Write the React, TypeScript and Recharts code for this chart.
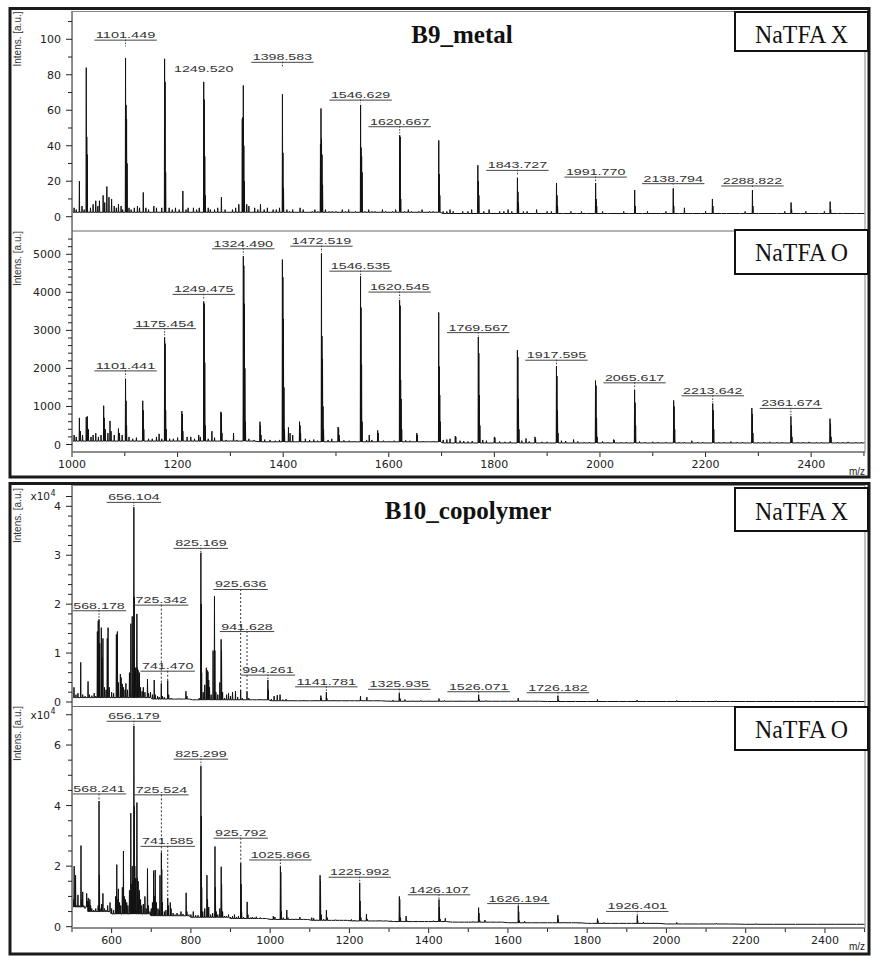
import React from 'react';
import { ComposedChart, Line, XAxis, YAxis, ReferenceDot, ReferenceLine } from 'recharts';

const SANS = '"DejaVu Sans", "Liberation Sans", Arial, sans-serif';
const ARIAL = '"Liberation Sans", Arial, Helvetica, sans-serif';
const SERIF = '"Liberation Serif", "Times New Roman", serif';

type Pt = [number, number];
type Lab = [number, string, number, number, string];

// ---------------- B9_metal, NaTFA X ----------------
const b9XPeaks: Pt[] = [
  [1014, 20], [1027, 84], [1028, 45], [1029, 35], [1045, 9], [1059, 12], [1066, 17], [1070, 11], [1075, 10], [1088, 7],
  [1101.4, 89.5], [1102.4, 63], [1103.4, 55], [1104.4, 30], [1135, 13.7],
  [1175.4, 89], [1176.4, 76], [1177.4, 25], [1210, 14.5],
  [1249.5, 76], [1250.5, 66], [1251.5, 34], [1252.5, 12], [1283, 11],
  [1322.5, 55], [1323.5, 56], [1324.5, 74], [1325.5, 40], [1326.5, 20], [1357, 7],
  [1398.6, 69], [1399.6, 36], [1400.6, 16],
  [1470.6, 41], [1471.6, 61], [1472.6, 44], [1473.6, 35], [1474.6, 18],
  [1546.6, 63], [1547.6, 39], [1548.6, 34], [1549.6, 25],
  [1620.7, 46], [1621.7, 45], [1622.7, 10],
  [1694.7, 43], [1695.7, 24], [1696.7, 12],
  [1768.7, 29], [1769.7, 20], [1770.7, 12],
  [1843.7, 22], [1844.7, 14], [1845.7, 8],
  [1917.7, 19], [1918.7, 12], [1919.7, 6],
  [1991.8, 19], [1992.8, 10], [1993.8, 6],
  [2065.8, 15], [2066.8, 6], [2138.8, 16], [2139.8, 6], [2160, 5],
  [2213, 10], [2214, 6], [2288.8, 15], [2289.8, 6],
  [2362, 8], [2363, 4], [2436, 8.5], [2437, 4],
];
const b9XNoise: Pt[] = [
  [1000.5, 4], [1004, 5], [1008, 4], [1019, 6], [1023, 4], [1035, 5], [1040, 7], [1049, 6], [1052, 9], [1062, 8],
  [1080, 6], [1084, 5], [1093, 6], [1096, 4], [1108, 5], [1112, 4], [1118, 5], [1124, 6], [1128, 5], [1140, 5],
  [1145, 4], [1155, 6], [1160, 5], [1170, 5], [1184, 5], [1190, 4], [1196, 5], [1203, 4], [1216, 4], [1220, 5],
  [1230, 5], [1236, 4], [1241, 5], [1258, 5], [1262, 4], [1270, 4], [1276, 5], [1290, 4], [1304, 4], [1310, 5],
  [1316, 7], [1331, 7], [1335, 6], [1346, 5], [1352, 4], [1364, 4], [1370, 5], [1381, 4], [1387, 4], [1393, 5],
  [1407, 4], [1412, 3], [1418, 4], [1432, 5], [1438, 4], [1455, 3], [1460, 4], [1466, 3], [1480, 4], [1487, 3],
  [1493, 3], [1500, 3], [1512, 4], [1518, 3], [1524, 4], [1537, 3], [1555, 3], [1562, 4], [1568, 3], [1574, 3],
  [1588, 4], [1594, 3], [1607, 3], [1613, 4], [1630, 3], [1637, 4], [1643, 3], [1657, 3], [1663, 4], [1677, 3],
  [1684, 3], [1703, 3], [1710, 3], [1716, 4], [1722, 3], [1740, 3], [1750, 3], [1757, 4], [1780, 3], [1790, 4],
  [1810, 3], [1818, 3], [1826, 4], [1833, 3], [1855, 3], [1862, 3], [1880, 4], [1900, 3], [1908, 3], [1930, 2],
  [1945, 3], [1955, 2], [1965, 3], [1975, 2], [2005, 3], [2015, 2], [2045, 3], [2055, 2], [2080, 2], [2090, 3],
  [2115, 2], [2125, 3], [2150, 2], [2175, 2], [2190, 2], [2200, 3], [2230, 2], [2240, 2], [2265, 2], [2275, 3],
  [2300, 2], [2335, 2], [2350, 3], [2380, 2], [2390, 3], [2415, 2], [2425, 3], [2450, 2], [2460, 2], [2485, 2], [2501, 2],
];
const b9XBase: Pt[] = [[1000, 2.5], [1700, 1.8]];
const b9XLabels: Lab[] = [
  [1101.449, '1101.449', 99.8, 96, 'u'],
  [1249.52, '1249.520', 80.8, 80.8, 'n'],
  [1398.583, '1398.583', 87.3, 84.5, 'u'],
  [1546.629, '1546.629', 66, 64, 'u'],
  [1620.667, '1620.667', 51, 47, 'u'],
  [1843.727, '1843.727', 26.4, 23, 'u'],
  [1991.77, '1991.770', 22.6, 20, 'u'],
  [2138.794, '2138.794', 18.9, 17, 'u'],
  [2288.822, '2288.822', 17.6, 16, 'u'],
];

// ---------------- B9_metal, NaTFA O ----------------
const b9OPeaks: Pt[] = [
  [1000.5, 150], [1004, 250], [1008, 200], [1014, 700], [1016, 350], [1020, 250], [1027, 720], [1029, 740], [1031, 400], [1036, 200],
  [1040, 250], [1045, 300], [1050, 200], [1055, 250], [1060, 1020], [1061, 700], [1063, 400], [1068, 300], [1072, 620], [1074, 350],
  [1080, 250], [1088, 420], [1090, 300], [1095, 250],
  [1101.4, 1730], [1102.4, 1150], [1103.4, 500], [1108, 200], [1115, 150], [1122, 180],
  [1134, 1150], [1135, 900], [1136, 400], [1145, 150], [1152, 150], [1160, 200], [1165, 280], [1170, 150],
  [1175.45, 2820], [1176.45, 2650], [1177.45, 900], [1178.45, 400], [1185, 150], [1192, 150], [1200, 180],
  [1208, 880], [1209, 800], [1210, 350], [1218, 200], [1225, 200], [1232, 150], [1240, 250], [1243, 200],
  [1249.5, 3760], [1250.5, 3700], [1251.5, 2150], [1252.5, 500], [1258, 150], [1265, 350], [1270, 180],
  [1282, 860], [1283, 820], [1284, 300], [1292, 120], [1300, 100], [1306, 300], [1312, 120],
  [1324.5, 4950], [1325.5, 4700], [1326.5, 3700], [1327.5, 2000], [1328.5, 600], [1335, 150], [1345, 120],
  [1356, 600], [1357, 500], [1358, 250], [1365, 130], [1375, 120], [1385, 100], [1393, 120],
  [1398.5, 4860], [1399.5, 4400], [1400.5, 3300], [1401.5, 1500], [1402.5, 400], [1410, 450], [1413, 300], [1418, 250],
  [1431, 600], [1432, 500], [1433, 300], [1442, 150], [1450, 120], [1458, 130], [1465, 100],
  [1472.5, 5020], [1473.5, 2850], [1474.5, 2250], [1475.5, 1000], [1476.5, 400], [1485, 120], [1492, 150],
  [1504, 460], [1505, 420], [1506, 250], [1515, 110], [1525, 100], [1535, 90],
  [1546.5, 4420], [1547.5, 3600], [1548.5, 2100], [1549.5, 600], [1558, 120], [1563, 250], [1568, 120],
  [1579, 370], [1580, 300], [1590, 100], [1600, 90], [1610, 100],
  [1620.5, 3800], [1621.5, 3650], [1622.5, 1700], [1623.5, 1200], [1624.5, 400], [1632, 110], [1640, 100],
  [1653, 300], [1654, 250], [1665, 90], [1675, 80], [1685, 90],
  [1694.6, 3470], [1695.6, 2050], [1696.6, 1300], [1697.6, 600], [1703, 120], [1710, 130], [1716, 150],
  [1726, 220], [1727, 200], [1735, 100], [1742, 90], [1750, 80], [1758, 90],
  [1769.6, 2830], [1770.6, 2400], [1771.6, 1300], [1772.6, 500], [1778, 120], [1785, 100],
  [1800, 200], [1801, 180], [1810, 80], [1820, 70], [1830, 80],
  [1843.6, 2480], [1844.6, 2300], [1845.6, 1200], [1846.6, 400], [1852, 100], [1860, 160], [1866, 80], [1877, 200], [1878, 150], [1890, 70], [1900, 70],
  [1917.6, 2060], [1918.6, 1800], [1919.6, 900], [1920.6, 300], [1927, 100], [1935, 90], [1950, 130], [1958, 80], [1970, 60], [1980, 60],
  [1991.6, 1680], [1992.6, 1550], [1993.6, 700], [1994.6, 200], [2005, 80], [2015, 60], [2026, 130], [2027, 110], [2040, 60], [2050, 60],
  [2065.6, 1440], [2066.6, 1100], [2067.6, 500], [2075, 80], [2085, 60], [2100, 70], [2110, 60], [2125, 60],
  [2139.6, 1160], [2140.6, 1000], [2141.6, 400], [2150, 60], [2160, 60], [2174, 100], [2185, 60], [2195, 60],
  [2213.6, 1080], [2214.6, 900], [2215.6, 400], [2225, 60], [2235, 60], [2248, 80], [2260, 60], [2270, 60],
  [2287.7, 960], [2288.7, 800], [2289.7, 300], [2300, 60], [2310, 60], [2322, 70], [2335, 60], [2345, 60],
  [2361.7, 740], [2362.7, 500], [2363.7, 200], [2375, 60], [2385, 60], [2396, 70], [2410, 60], [2420, 60],
  [2435.7, 680], [2436.7, 550], [2437.7, 200], [2450, 60], [2460, 60], [2470, 70], [2485, 60], [2495, 60], [2501, 50],
];
const b9OBase: Pt[] = [[1000, 90], [1350, 70], [1700, 40]];
const b9OLabels: Lab[] = [
  [1101.441, '1101.441', 1948, 1780, 'u'],
  [1175.454, '1175.454', 3059, 2870, 'u'],
  [1249.475, '1249.475', 3959, 3800, 'u'],
  [1324.49, '1324.490', 5157, 4990, 'u'],
  [1472.519, '1472.519', 5226, 5060, 'u'],
  [1546.535, '1546.535', 4570, 4450, 'u'],
  [1620.545, '1620.545', 4020, 3840, 'u'],
  [1769.567, '1769.567', 2954, 2860, 'u'],
  [1917.595, '1917.595', 2229, 2090, 'u'],
  [2065.617, '2065.617', 1634, 1470, 'u'],
  [2213.642, '2213.642', 1293, 1110, 'u'],
  [2361.674, '2361.674', 962, 770, 'u'],
];

// ---------------- B10_copolymer, NaTFA X ----------------
const b10XPeaks: Pt[] = [
  [500.5, 1500], [505, 3000], [510, 1500], [515, 1800], [522, 8100], [527, 1500], [533, 1200], [540.5, 4200], [544, 1500], [550, 1300],
  [556, 1800], [560, 1200], [564, 14400], [566.2, 16600], [568.2, 16900], [570, 12000], [574, 15200], [576, 9000], [578, 13000], [582, 3000],
  [586, 2500], [589, 13000], [591, 15200], [594, 3000], [600, 2000], [605, 1800], [612, 13800], [614.5, 14400], [617, 4000], [622, 5700],
  [624, 5000], [627, 3700], [630, 3000], [634, 2500], [636, 3800], [640, 2500], [645, 6000], [648.5, 16000], [652, 17500], [656.1, 39800],
  [657.1, 21500], [658.1, 7000], [660, 7000], [663.7, 18000], [665, 7000], [667, 6500], [670, 6000], [673, 3000], [677, 2200], [680, 3000],
  [684, 2000], [690.5, 4700], [693, 1800], [698, 2000], [703, 1500], [707.5, 4500], [710, 1500], [716, 1200], [720, 1000], [725.3, 3800],
  [728, 1200], [733, 1000], [741.5, 4400], [744, 1500], [750, 800], [760, 600], [770, 700], [780, 600], [787.5, 2200], [790, 1200],
  [796, 600], [805, 500], [815, 500], [821, 800], [825.2, 30500], [826.2, 20000], [827.2, 6000], [831, 2000], [835, 3500], [839, 7000],
  [841, 6500], [843, 6200], [845, 4500], [847, 3000], [851, 1500], [856, 10500], [859.5, 21600], [860.5, 10500], [863, 2000], [868, 1500],
  [873, 4000], [876.3, 12800], [877.3, 10500], [880, 2000], [885, 800], [890, 1500], [895, 1800], [900, 1200], [905, 2000], [912.5, 2200],
  [918, 1000], [925.6, 2500], [930, 800], [941.6, 2200], [946, 800], [955, 500], [965, 500], [975, 600], [994.3, 4500], [995.3, 2500],
  [1003, 600], [1010, 1200], [1018, 1400], [1025, 1500], [1032, 500], [1040, 600], [1055, 400], [1070, 300], [1085, 400], [1100, 300],
  [1115, 400], [1128, 1300], [1129, 800], [1141.8, 2000], [1143, 800], [1160, 400], [1180, 300], [1200, 300], [1213, 300], [1228, 1200],
  [1230, 400], [1244, 1000], [1260, 300], [1280, 300], [1300, 250], [1310, 400], [1325.9, 1800], [1328, 700], [1340, 500], [1360, 250],
  [1380, 300], [1400, 250], [1426, 700], [1440, 300], [1460, 200], [1480, 250], [1500, 200], [1526.1, 1500], [1528, 500], [1545, 300],
  [1560, 200], [1580, 200], [1600, 150], [1626, 800], [1640, 250], [1660, 150], [1680, 150], [1700, 150], [1726.2, 1300], [1728, 400],
  [1745, 200], [1770, 150], [1800, 150], [1826, 500], [1850, 100], [1880, 120], [1900, 100], [1926, 400], [1950, 100], [2000, 100],
  [2026, 300], [2060, 80], [2100, 80], [2126, 250], [2160, 80], [2200, 80], [2226, 200], [2270, 80], [2326, 200], [2370, 80],
  [2426, 150], [2480, 80], [2500, 80],
];
const b10XBase: Pt[] = [[500, 900], [700, 600], [800, 450], [1000, 250], [1300, 150], [1700, 100]];
const b10XLabels: Lab[] = [
  [656.104, '656.104', 40900, 40000, 'u'],
  [568.178, '568.178', 18750, 17000, 'u'],
  [725.342, '725.342', 19900, 3900, 'd'],
  [825.169, '825.169', 31500, 30600, 'u'],
  [925.636, '925.636', 23100, 2600, 'd'],
  [941.628, '941.628', 14500, 2300, 'd'],
  [741.47, '741.470', 6400, 4500, 'd'],
  [994.261, '994.261', 5600, 4600, 'u'],
  [1141.781, '1141.781', 3200, 2100, 'u'],
  [1325.935, '1325.935', 2700, 1900, 'u'],
  [1526.071, '1526.071', 2200, 1600, 'u'],
  [1726.182, '1726.182', 2000, 1400, 'u'],
];

// ---------------- B10_copolymer, NaTFA O ----------------
const b10OPeaks: Pt[] = [
  [500.3, 15000], [501, 18500], [503, 9000], [505.5, 20000], [507, 8000], [509, 17000], [511, 7000], [515, 10500], [518, 7000], [522.7, 26800],
  [524, 9000], [527, 11500], [530, 7000], [533, 6000], [537, 11000], [539, 8500], [541, 9500], [543, 8000], [545, 9000], [547, 7000],
  [550, 6000], [555, 5500], [560, 6000], [566, 7000], [568.2, 41500], [569.2, 17000], [571, 6000], [575, 7500], [578, 11000], [582, 6000],
  [586, 5500], [590, 7000], [596, 8000], [600, 6000], [605, 5500], [610, 10000], [613, 20500], [615, 9000], [617, 12500], [620, 8000],
  [623, 7000], [627, 13000], [629.8, 25000], [632, 10000], [635, 9000], [638, 8000], [641, 7000], [645, 12000], [648.4, 37500], [650, 14000],
  [652, 20000], [654, 15000], [656.2, 66300], [657.2, 39700], [658.5, 20000], [660, 16000], [663.8, 41000], [665, 16000], [667, 15000], [670, 12000],
  [673, 9000], [676, 7000], [680, 7500], [684, 10000], [687, 6000], [690.5, 19200], [693, 7000], [697, 5000], [700, 6000], [703, 8000],
  [706, 18500], [708, 10000], [710, 18700], [713, 8000], [717, 6000], [720, 5500], [722, 17000], [725.5, 24500], [726.5, 19000], [728, 8000],
  [733, 5000], [737, 5500], [741.6, 9500], [743, 7000], [748, 8000], [750, 6000], [755, 4500], [760, 4000], [765, 4500], [770, 4000],
  [775, 5000], [780, 4200], [788, 11200], [790, 5000], [795, 4000], [800, 4000], [806, 5000], [812, 3800], [818, 3800], [825.3, 53000],
  [826.3, 36500], [827.3, 13000], [830, 5000], [835, 6000], [840.5, 17000], [842, 9000], [845, 6500], [850, 4000], [855, 4500], [860.8, 26500],
  [861.8, 13000], [864, 5000], [868, 4000], [873, 6000], [876.5, 19800], [877.5, 14000], [880, 5000], [885, 3500], [890, 3500], [895, 4000],
  [900, 3200], [905, 3500], [910, 4000], [915, 3200], [920, 3500], [925.8, 21000], [926.8, 14000], [928, 5000], [933, 3200], [942, 8200],
  [944, 4000], [950, 3000], [955, 3200], [960, 3000], [965, 3300], [970, 2800], [975, 3000], [980, 2800], [990, 2800], [1000, 2600],
  [1008, 3500], [1012, 3200], [1025.9, 20000], [1026.9, 18000], [1028, 5000], [1033, 3000], [1042, 5500], [1045, 3000], [1055, 2600], [1065, 2600],
  [1075, 3200], [1085, 2400], [1095, 2400], [1105, 3000], [1110, 2800], [1118, 2300], [1126, 17000], [1127, 15000], [1129, 4000], [1135, 2500],
  [1142, 5500], [1144, 3000], [1155, 2200], [1165, 2300], [1175, 2100], [1185, 2200], [1195, 2000], [1205, 2400], [1212, 2200], [1226, 14500],
  [1227, 8500], [1229, 3000], [1235, 2000], [1243, 4200], [1245, 2500], [1255, 1900], [1265, 1900], [1275, 2100], [1285, 1800], [1295, 1900],
  [1305, 2000], [1312, 1800], [1326, 10000], [1327, 9000], [1329, 3000], [1335, 1900], [1343, 3500], [1345, 2000], [1360, 1700], [1375, 1800],
  [1390, 1600], [1400, 1700], [1412, 2000], [1426.1, 9000], [1427.1, 6500], [1429, 2500], [1442, 2800], [1444, 1700], [1460, 1600], [1475, 1500],
  [1490, 1500], [1500, 1600], [1512, 1700], [1526, 6300], [1527, 4500], [1529, 2000], [1542, 2200], [1555, 1500], [1570, 1400], [1585, 1500],
  [1600, 1400], [1612, 1500], [1626.2, 7000], [1627.2, 5000], [1629, 2000], [1642, 1800], [1660, 1300], [1680, 1300], [1700, 1200], [1712, 1300],
  [1726, 3800], [1727, 2500], [1742, 1500], [1760, 1200], [1780, 1100], [1800, 1100], [1812, 1200], [1826, 2700], [1827, 2000], [1842, 1400],
  [1860, 1100], [1880, 1000], [1900, 1000], [1912, 1100], [1926.4, 3700], [1927.4, 2000], [1942, 1500], [1960, 900], [1980, 900], [2000, 900],
  [2026, 1400], [2042, 900], [2080, 800], [2126, 1100], [2160, 800], [2200, 750], [2226, 1000], [2270, 750], [2326, 900], [2380, 700],
  [2426, 800], [2480, 700], [2500, 700],
];
const b10OBase: Pt[] = [
  [500, 6500], [540, 5000], [600, 4200], [700, 3600], [800, 3100], [900, 2700], [1000, 2400], [1100, 2100],
  [1200, 1900], [1300, 1700], [1450, 1500], [1600, 1300], [1800, 1100], [2000, 900], [2200, 800],
];
const b10OLabels: Lab[] = [
  [656.179, '656.179', 68000, 66500, 'u'],
  [568.241, '568.241', 44000, 41600, 'd'],
  [725.524, '725.524', 43700, 24600, 'd'],
  [825.299, '825.299', 55500, 53200, 'u'],
  [741.585, '741.585', 26700, 9600, 'd'],
  [925.792, '925.792', 29400, 21100, 'd'],
  [1025.866, '1025.866', 22200, 20100, 'u'],
  [1225.992, '1225.992', 16500, 14600, 'u'],
  [1426.107, '1426.107', 10700, 9100, 'u'],
  [1626.194, '1626.194', 7800, 7100, 'u'],
  [1926.401, '1926.401', 5200, 3900, 'u'],
];

// ---------------- axes ----------------
const mzTicksB9 = [1000, 1100, 1200, 1300, 1400, 1500, 1600, 1700, 1800, 1900, 2000, 2100, 2200, 2300, 2400, 2500];
const mzLabelsB9 = [1000, 1200, 1400, 1600, 1800, 2000, 2200, 2400];
const mzTicksB10 = [500, 600, 700, 800, 900, 1000, 1100, 1200, 1300, 1400, 1500, 1600, 1700, 1800, 1900, 2000, 2100, 2200, 2300, 2400, 2500];
const mzLabelsB10 = [600, 800, 1000, 1200, 1400, 1600, 1800, 2000, 2200, 2400];

const yTicksB9X = [0, 10, 20, 30, 40, 50, 60, 70, 80, 90, 100, 110];
const yLabelsB9X = [0, 20, 40, 60, 80, 100];
const yTicksB9O = [0, 200, 400, 600, 800, 1000, 1200, 1400, 1600, 1800, 2000, 2200, 2400, 2600, 2800, 3000, 3200, 3400, 3600, 3800, 4000, 4200, 4400, 4600, 4800, 5000, 5200, 5400];
const yLabelsB9O = [0, 1000, 2000, 3000, 4000, 5000];
const yTicksB10X = [0, 2000, 4000, 6000, 8000, 10000, 12000, 14000, 16000, 18000, 20000, 22000, 24000, 26000, 28000, 30000, 32000, 34000, 36000, 38000, 40000, 42000];
const yLabelsB10X = [0, 10000, 20000, 30000, 40000];
const yTicksB10O = [0, 5000, 10000, 15000, 20000, 25000, 30000, 35000, 40000, 45000, 50000, 55000, 60000, 65000, 70000];
const yLabelsB10O = [0, 20000, 40000, 60000];

// ---------------- helpers ----------------
function baseAt(base: Pt[], m: number) {
  let b = base[0][1];
  for (const [bm, bv] of base) if (m >= bm) b = bv;
  return b;
}
function buildSpectrum(lists: Pt[][], base: Pt[], w: number) {
  const all = ([] as Pt[]).concat(...lists).sort((a, b) => a[0] - b[0]);
  const out: { mz: number; v: number }[] = [];
  for (const [m, h] of all) {
    const b = baseAt(base, m);
    out.push({ mz: m - w, v: b }, { mz: m, v: h }, { mz: m + w, v: b });
  }
  return out;
}
function labelWidth(t: string) {
  let w = 0;
  for (const ch of t) w += ch === '.' ? 3.4 : 8;
  return w;
}

const PeakLabel = (props: any) => {
  const { cx, cy, text, kind } = props;
  if (cx == null || cy == null) return <g />;
  const w = labelWidth(text);
  return (
    <g>
      <text x={cx} y={cy - 1.5} textAnchor="middle" fontSize={9.5} fontFamily={ARIAL} fill="#333"
        textLength={w} lengthAdjust="spacingAndGlyphs">{text}</text>
      {kind !== 'n' && (
        <line x1={cx - w / 2 - 1.5} x2={cx + w / 2 + 1.5} y1={cy + 0.5} y2={cy + 0.5} stroke="#444" strokeWidth={1} />
      )}
    </g>
  );
};

const YTick = (props: any) => {
  const { x, y, payload, labels, exp, fmt } = props;
  const v = payload.value;
  const isExp = exp != null && v === exp;
  const labeled = labels.includes(v);
  const major = labeled || isExp;
  return (
    <g>
      <line x1={x - (major ? 6 : 4)} x2={x} y1={y} y2={y} stroke="#222" strokeWidth={1} />
      {labeled && (
        <text x={x - 11} y={y + 4} textAnchor="end" fontSize={11} fontFamily={SANS} fill="#222">{fmt(v)}</text>
      )}
      {isExp && (
        <g>
          <text x={x - 22} y={y + 4} textAnchor="end" fontSize={10.5} fontFamily={SANS} fill="#222">x10</text>
          <text x={x - 21.5} y={y - 0.5} textAnchor="start" fontSize={8} fontFamily={SANS} fill="#222">4</text>
        </g>
      )}
    </g>
  );
};

const XTick = (props: any) => {
  const { x, y, payload, labels } = props;
  const v = payload.value;
  const labeled = labels.includes(v);
  return (
    <g>
      <line x1={x} x2={x} y1={y} y2={y + (labeled ? 5 : 4)} stroke="#222" strokeWidth={1} />
      {labeled && (
        <text x={x} y={y + 15.5} textAnchor="middle" fontSize={11} fontFamily={SANS} fill="#222">{v}</text>
      )}
    </g>
  );
};

type Cfg = {
  top: number; height: number; mTop: number; mBottom: number;
  xDomain: [number, number]; showX: boolean; xTicks: number[]; xLabels: number[];
  yDomain: [number, number]; yTicks: number[]; yLabels: number[]; exp: number | null; fmt: (v: number) => string;
  series: { mz: number; v: number }[]; labels: Lab[];
};

function Panel({ cfg }: { cfg: Cfg }) {
  return (
    <div style={{ position: 'absolute', left: 0, top: cfg.top }}>
      <ComposedChart width={886} height={cfg.height}
        margin={{ top: cfg.mTop, right: 21, bottom: cfg.mBottom, left: 12 }}>
        <XAxis type="number" dataKey="mz" domain={cfg.xDomain} allowDataOverflow hide={!cfg.showX}
          ticks={cfg.xTicks} interval={0} tickSize={0} tickMargin={0} tickLine={false}
          axisLine={{ stroke: '#222' }} height={28}
          tick={(p: any) => <XTick {...p} labels={cfg.xLabels} />} />
        <YAxis type="number" domain={cfg.yDomain} allowDataOverflow ticks={cfg.yTicks} interval={0}
          tickSize={0} tickMargin={0} tickLine={false} axisLine={{ stroke: '#222' }} width={60}
          tick={(p: any) => <YTick {...p} labels={cfg.yLabels} exp={cfg.exp} fmt={cfg.fmt} />} />
        <Line data={cfg.series} dataKey="v" type="linear" stroke="#111" strokeWidth={1}
          dot={false} activeDot={false} isAnimationActive={false} />
        {cfg.labels.filter((l) => l[4] !== 'n').map((l, i) => (
          <ReferenceLine key={'ld' + i} ifOverflow="visible"
            segment={[{ x: l[0], y: l[2] }, { x: l[0], y: l[3] }]}
            stroke="#333" strokeWidth={1} strokeDasharray={l[4] === 'd' ? '2 2' : '1.5 1.5'} />
        ))}
        {cfg.labels.map((l, i) => (
          <ReferenceDot key={'lb' + i} x={l[0]} y={l[2]} r={0} ifOverflow="visible"
            shape={(p: any) => <PeakLabel {...p} text={l[1]} kind={l[4]} />} />
        ))}
      </ComposedChart>
    </div>
  );
}

const fmtPlain = (v: number) => String(v);
const fmt1e4 = (v: number) => String(v / 10000);

const panels: Cfg[] = [
  {
    top: 0, height: 242, mTop: 11, mBottom: 11,
    xDomain: [1000, 2502], showX: false, xTicks: mzTicksB9, xLabels: mzLabelsB9,
    yDomain: [-8.06, 115.95], yTicks: yTicksB9X, yLabels: yLabelsB9X, exp: null, fmt: fmtPlain,
    series: buildSpectrum([b9XPeaks, b9XNoise], b9XBase, 0.5), labels: b9XLabels,
  },
  {
    top: 220, height: 262, mTop: 11, mBottom: 2,
    xDomain: [1000, 2502], showX: true, xTicks: mzTicksB9, xLabels: mzLabelsB9,
    yDomain: [-197, 5612], yTicks: yTicksB9O, yLabels: yLabelsB9O, exp: null, fmt: fmtPlain,
    series: buildSpectrum([b9OPeaks], b9OBase, 0.5), labels: b9OLabels,
  },
  {
    top: 474, height: 244, mTop: 11, mBottom: 11.5,
    xDomain: [500, 2501], showX: false, xTicks: mzTicksB10, xLabels: mzLabelsB10,
    yDomain: [-920, 44350], yTicks: yTicksB10X, yLabels: yLabelsB10X, exp: 42000, fmt: fmt1e4,
    series: buildSpectrum([b10XPeaks], b10XBase, 0.7), labels: b10XLabels,
  },
  {
    top: 696, height: 262, mTop: 10.5, mBottom: 2,
    xDomain: [500, 2501], showX: true, xTicks: mzTicksB10, xLabels: mzLabelsB10,
    yDomain: [-430, 72720], yTicks: yTicksB10O, yLabels: yLabelsB10O, exp: 70000, fmt: fmt1e4,
    series: buildSpectrum([b10OPeaks], b10OBase, 0.7), labels: b10OLabels,
  },
];

const boxes = [
  { y: 12, h: 39, text: 'NaTFA X', base: 43 },
  { y: 230, h: 44, text: 'NaTFA O', base: 260.5 },
  { y: 488, h: 43, text: 'NaTFA X', base: 519.5 },
  { y: 707, h: 43, text: 'NaTFA O', base: 738 },
];
const intensY = [39, 258.5, 515.5, 733.5];

export default function App() {
  return (
    <div style={{ position: 'absolute', left: 0, top: 0, width: 886, height: 971, background: '#fff', overflow: 'hidden' }}>
      {panels.map((c, i) => <Panel key={i} cfg={c} />)}
      <svg width={886} height={971} style={{ position: 'absolute', left: 0, top: 0, pointerEvents: 'none' }}>
        {/* plot frames */}
        <rect x={72.5} y={11.5} width={792.5} height={440.5} fill="none" stroke="#888" strokeWidth={1} />
        <line x1={72} x2={865} y1={231} y2={231} stroke="#666" strokeWidth={1} />
        <rect x={72.5} y={485.5} width={792.5} height={442.5} fill="none" stroke="#888" strokeWidth={1} />
        <line x1={72} x2={865} y1={706.5} y2={706.5} stroke="#666" strokeWidth={1} />
        {/* outer frames */}
        <rect x={10} y={8.5} width={859} height={468.5} fill="none" stroke="#1a1a1a" strokeWidth={3} />
        <rect x={10} y={483.5} width={859} height={470.5} fill="none" stroke="#1a1a1a" strokeWidth={3} />
        {/* titles */}
        <text x={462} y={43} textAnchor="middle" fontFamily={SERIF} fontWeight="bold" fontSize={25} fill="#111">B9_metal</text>
        <text x={468} y={519} textAnchor="middle" fontFamily={SERIF} fontWeight="bold" fontSize={25} fill="#111">B10_copolymer</text>
        {/* condition boxes */}
        {boxes.map((b, i) => (
          <g key={i}>
            <rect x={735} y={b.y} width={133} height={b.h} fill="#fff" stroke="#111" strokeWidth={2} />
            <text x={801.5} y={b.base} textAnchor="middle" fontFamily={SERIF} fontSize={25} fill="#111"
              textLength={93} lengthAdjust="spacingAndGlyphs">{b.text}</text>
          </g>
        ))}
        {/* intensity labels */}
        {intensY.map((cy, i) => (
          <text key={i} x={21} y={cy} transform={`rotate(-90 21 ${cy})`} textAnchor="middle"
            fontFamily={ARIAL} fontSize={10} fill="#333">Intens. [a.u.]</text>
        ))}
        <text x={865} y={475} textAnchor="end" fontFamily={ARIAL} fontSize={10} fill="#222">m/z</text>
        <text x={865} y={950} textAnchor="end" fontFamily={ARIAL} fontSize={10} fill="#222">m/z</text>
      </svg>
    </div>
  );
}
